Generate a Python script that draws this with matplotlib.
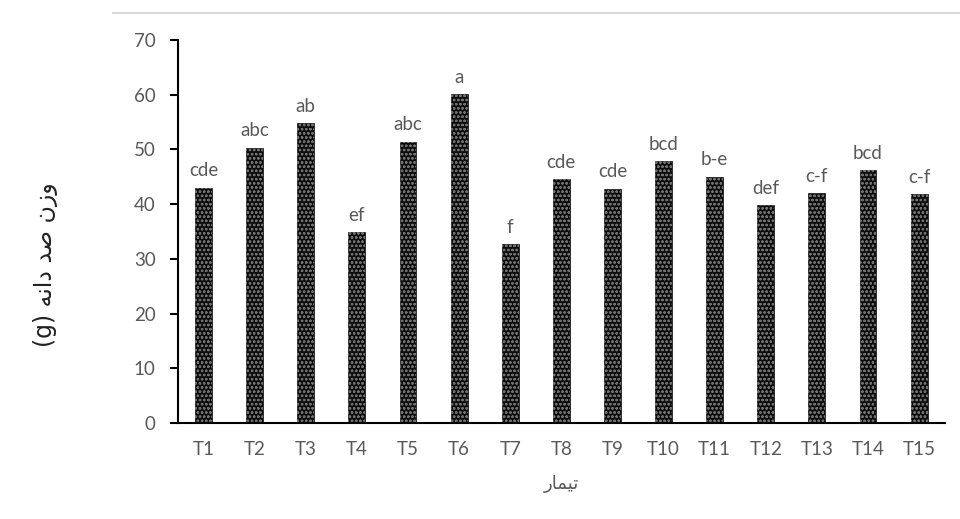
import matplotlib as mpl
mpl.use('Agg')
import matplotlib.pyplot as plt
from matplotlib.lines import Line2D

treatments = ['T%d' % i for i in range(1, 16)]
weights = [43.0, 50.3, 54.8, 34.9, 51.4, 60.1, 32.7, 44.6, 42.8, 47.8, 45.0, 39.8, 42.0, 46.2, 41.8]
groups = ['cde', 'abc', 'ab', 'ef', 'abc', 'a', 'f', 'cde', 'cde', 'bcd', 'b-e', 'def', 'c-f', 'bcd', 'c-f']

# Persian labels written in presentation forms, visual order
ylabel = '(g) \uFEEA\uFEE7\uFE8D\uFEA9 \uFEAA\uFEBB \uFEE5\uFEAF\uFEED'
xlabel = '\uFEAD\uFE8E\uFEE4\uFEF4\uFE97'

grey = '#595959'
plt.rcParams['font.family'] = ['Lato', 'DejaVu Sans']
plt.rcParams['hatch.linewidth'] = 0.6

fig = plt.figure(figsize=(9.6, 5.19), dpi=100)
ax = fig.add_axes([0.1854, 0.185, 0.7986, 0.738])

x = range(len(treatments))
ax.bar(x, weights, width=0.33, color='#0d0d0d', edgecolor='#0d0d0d', linewidth=0.5)
ax.bar(x, weights, width=0.33, color='none', edgecolor='#707070', linewidth=0, hatch='oooo')

for i, (v, g) in enumerate(zip(weights, groups)):
    ax.annotate(g, (i, v), xytext=(0, 6), textcoords='offset points',
                ha='center', va='bottom', fontsize=13.5, color=grey)

ax.set_xlim(-0.5, 14.5)
ax.set_ylim(0, 70)
ax.set_yticks(range(0, 71, 10))
ax.set_xticks(list(x))
ax.set_xticklabels(treatments)
ax.spines['top'].set_visible(False)
ax.spines['right'].set_visible(False)
ax.spines['left'].set_linewidth(1.5)
ax.spines['bottom'].set_linewidth(1.5)
ax.tick_params(axis='y', length=6, width=1.5, labelsize=13.5, labelcolor=grey, pad=10)
ax.tick_params(axis='x', length=0, labelsize=13.5, labelcolor=grey, pad=13)

ax.set_xlabel(xlabel, fontsize=13, color=grey, family=['DejaVu Sans'], labelpad=12)
fig.text(0.047, 0.49, ylabel, rotation=90, ha='center', va='center',
         fontsize=17, color='#222222', family=['DejaVu Sans'])

fig.add_artist(Line2D([0.118, 1.0], [0.975, 0.975], color='#d9d9d9', linewidth=1.5))

plt.savefig('out.png', dpi=100)
